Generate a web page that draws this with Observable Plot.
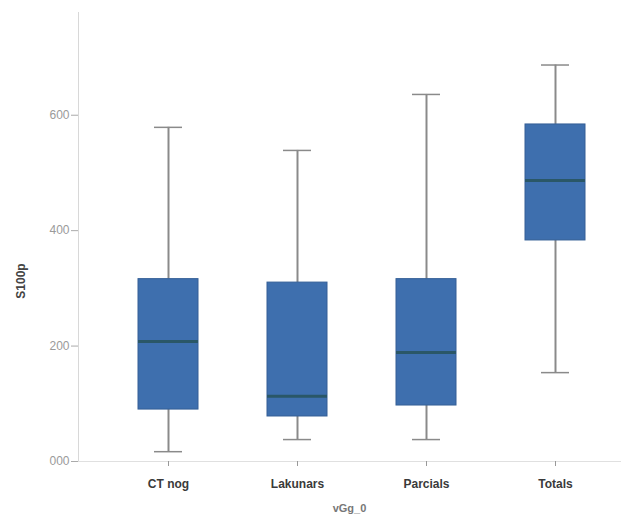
<!DOCTYPE html>
<html>
<head>
<meta charset="utf-8">
<script src="https://cdn.jsdelivr.net/npm/d3@7"></script>
<script src="https://cdn.jsdelivr.net/npm/@observablehq/plot@0.6"></script>
<style>
  html, body { margin: 0; padding: 0; background: #fff; }
  #chart svg { display: block; }
</style>
</head>
<body>
<div id="chart"></div>
<script>
const categories = ["CT nog", "Lakunars", "Parcials", "Totals"];
const whiskerLow  = [17, 38, 38, 154];
const q1          = [90, 78, 97, 383];
const median      = [208, 113, 189, 487];
const q3          = [316, 310, 316, 584];
const whiskerHigh = [579, 539, 636, 687];
const yTicks = [0, 200, 400, 600];
const yTickLabels = ["000", "200", "400", "600"];

const rows = categories.map((c, i) => ({
  cat: c, lo: whiskerLow[i], q1: q1[i], med: median[i], q3: q3[i], hi: whiskerHigh[i]
}));

const chart = Plot.plot({
  width: 631,
  height: 519,
  marginTop: 12,
  marginBottom: 58,
  marginLeft: 78,
  marginRight: 11,
  style: { fontFamily: "Liberation Sans, Arial, sans-serif", background: "#fff" },
  x: { type: "band", domain: categories, paddingInner: 0.535, paddingOuter: 0.368, align: 0.63, label: null },
  y: { domain: [0, 778], label: null },
  marks: [
    Plot.frame({ anchor: "left", stroke: "#d8d8d8" }),
    Plot.frame({ anchor: "bottom", stroke: "#e0e0e0" }),
    Plot.ruleX(rows, { x: "cat", y1: "lo", y2: "q1", stroke: "#8a8a8a", strokeWidth: 2 }),
    Plot.ruleX(rows, { x: "cat", y1: "q3", y2: "hi", stroke: "#8a8a8a", strokeWidth: 2 }),
    Plot.tickY(rows, { x: "cat", y: "lo", stroke: "#8a8a8a", strokeWidth: 1.5, inset: 16 }),
    Plot.tickY(rows, { x: "cat", y: "hi", stroke: "#8a8a8a", strokeWidth: 1.5, inset: 16 }),
    Plot.barY(rows, { x: "cat", y1: "q1", y2: "q3", fill: "#3e6fae", stroke: "#345f96", strokeWidth: 1 }),
    Plot.tickY(rows, { x: "cat", y: "med", stroke: "#2a5767", strokeWidth: 3 }),
    Plot.axisY({ ticks: yTicks, tickFormat: (d) => yTickLabels[yTicks.indexOf(d)], tickSize: 7, tickPadding: 2,
                 stroke: "#aaa", fill: "#9a9a9a", fontSize: 12, label: null }),
    Plot.axisX({ tickSize: 5, tickPadding: 13, stroke: "#999", fill: "#3a3a3a", fontSize: 12,
                 fontWeight: "bold", label: null }),
    Plot.axisX({ ticks: [], label: "vGg_0", labelAnchor: "center", labelArrow: "none", labelOffset: 50,
                 fill: "#777", fontSize: 11, fontWeight: "bold" }),
    Plot.axisY({ ticks: [], label: "S100p", labelAnchor: "center", labelArrow: "none", labelOffset: 62,
                 fill: "#444", fontSize: 12, fontWeight: "bold", ariaLabel: "ylabel" })
  ]
});
// shift the y-axis title downward to match the reference placement
d3.select(chart).selectAll('g[aria-label="ylabel"] text, g[aria-label="ylabel label"] text').each(function () {
  const t = this.getAttribute("transform") || "";
  this.setAttribute("transform", t.replace(/translate\(([^,]+),([^)]+)\)/, (m, a, b) => `translate(${a},${+b + 44})`));
});
document.getElementById("chart").appendChild(chart);
</script>
</body>
</html>
